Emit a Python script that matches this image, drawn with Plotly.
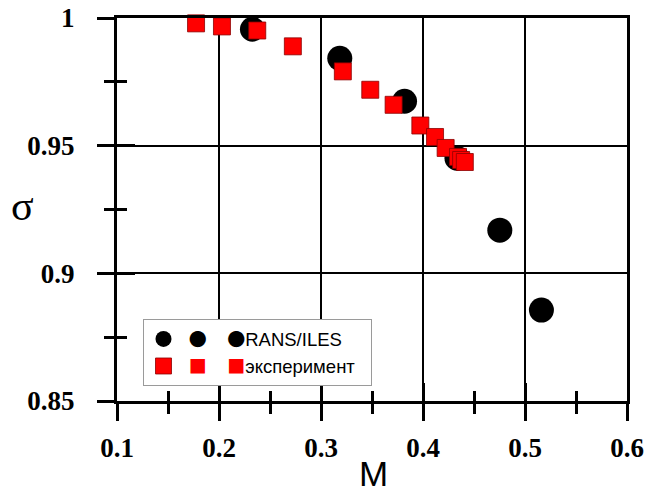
import plotly.graph_objects as go

# ---- data ----
rans_M = [0.2328, 0.3184, 0.3819, 0.4333, 0.4753, 0.5161]
rans_sigma = [0.9956, 0.9842, 0.9674, 0.9451, 0.9169, 0.8856]

exp_M = [0.1775, 0.2029, 0.2375, 0.2724, 0.3214, 0.3483, 0.3712, 0.3974,
         0.4118, 0.4222, 0.4343, 0.4374, 0.4410]
exp_sigma = [0.9979, 0.9967, 0.9951, 0.9889, 0.9791, 0.9719, 0.9660, 0.9579,
             0.9534, 0.9491, 0.9456, 0.9444, 0.9436]

x_ticks = [0.1, 0.2, 0.3, 0.4, 0.5, 0.6]
x_ticklabels = ["0.1", "0.2", "0.3", "0.4", "0.5", "0.6"]
x_minor = [0.15, 0.25, 0.35, 0.45, 0.55]
y_ticks = [0.85, 0.9, 0.95, 1.0]
y_ticklabels = ["0.85", "0.9", "0.95", "1"]
y_minor = [0.875, 0.925, 0.975]

name_rans = "RANS/ILES"
name_exp = "эксперимент"

NB = "\u00a0"
glyph = "<span style='font-family:Noto Sans CJK JP;font-size:18px;color:{c}'>{g}</span>"
leg_rans = NB + glyph.format(c="black", g="\u25cf") + NB * 4 + glyph.format(c="black", g="\u25cf") + name_rans + NB * 2
leg_exp = NB + glyph.format(c="red", g="\u25a0") + NB * 4 + glyph.format(c="red", g="\u25a0") + name_exp + NB * 2

fig = go.Figure()
fig.add_trace(go.Scatter(
    x=rans_M, y=rans_sigma, mode="markers", name=leg_rans,
    marker=dict(symbol="circle", size=25, color="black", line=dict(width=0)),
    cliponaxis=False,
))
fig.add_trace(go.Scatter(
    x=exp_M, y=exp_sigma, mode="markers", name=leg_exp,
    marker=dict(symbol="square", size=17, color="#ff0000",
                line=dict(width=0.8, color="#8b0000")),
    cliponaxis=False,
))
# empty trace to register the overlay axes (inside ticks)
fig.add_trace(go.Scatter(x=[], y=[], xaxis="x2", yaxis="y2", showlegend=False,
                         hoverinfo="skip"))

TICKFAM = "Liberation Serif, Times New Roman, Liberation Sans, Arial, sans-serif"
tickfont = dict(family=TICKFAM, size=27, color="black", weight="bold")
xr = [0.1, 0.6]
yr = [0.85, 1.0]

common = dict(tickcolor="black", zeroline=False, automargin=False)

fig.update_layout(
    width=651, height=495,
    margin=dict(l=117, r=24, t=18, b=94, autoexpand=False),
    paper_bgcolor="white", plot_bgcolor="white",
    showlegend=True,
    legend=dict(
        x=0.05, y=0.213, xanchor="left", yanchor="top",
        bgcolor="white", bordercolor="#9a9a9a", borderwidth=1,
        font=dict(family="Liberation Sans", size=18.5, color="black"),
        tracegroupgap=0, itemsizing="trace",
    ),
    xaxis=dict(
        range=xr, tickmode="array", tickvals=x_ticks, ticktext=x_ticklabels,
        ticks="outside", ticklen=17, tickwidth=3,
        showline=True, linewidth=3, linecolor="black", mirror=True,
        showgrid=True, gridcolor="black", gridwidth=2,
        tickfont=tickfont, ticklabelstandoff=4,
        minor=dict(tickvals=x_minor, ticks="outside",
                   ticklen=10, tickwidth=3, tickcolor="black", showgrid=False),
        **common,
    ),
    yaxis=dict(
        range=yr, tickmode="array", tickvals=y_ticks, ticktext=y_ticklabels,
        ticks="outside", ticklen=17, tickwidth=3,
        showline=True, linewidth=3, linecolor="black", mirror=True,
        showgrid=True, gridcolor="black", gridwidth=2,
        tickfont=tickfont, ticklabelstandoff=17,
        minor=dict(tickvals=y_minor, ticks="outside",
                   ticklen=10, tickwidth=3, tickcolor="black", showgrid=False),
        **common,
    ),
    xaxis2=dict(
        range=xr, overlaying="x", anchor="y2", side="bottom",
        tickmode="array", tickvals=x_ticks, ticks="inside", ticklen=18,
        tickwidth=3, showticklabels=False,
        showgrid=False, showline=False,
        minor=dict(tickvals=x_minor, ticks="inside",
                   ticklen=10, tickwidth=3, tickcolor="black", showgrid=False),
        **common,
    ),
    yaxis2=dict(
        range=yr, overlaying="y", anchor="x2", side="left",
        tickmode="array", tickvals=y_ticks, ticks="inside", ticklen=18,
        tickwidth=3, showticklabels=False,
        showgrid=False, showline=False,
        minor=dict(tickvals=y_minor, ticks="inside",
                   ticklen=10, tickwidth=3, tickcolor="black", showgrid=False),
        **common,
    ),
    annotations=[
        dict(text="M", xref="paper", yref="paper", x=0.5025, y=-0.189,
             xanchor="center", yanchor="middle", showarrow=False,
             font=dict(family="Liberation Sans", size=35, color="black")),
        dict(text="σ", xref="paper", yref="paper", x=-0.1847, y=0.51,
             xanchor="center", yanchor="middle", showarrow=False,
             font=dict(family="Liberation Serif, Times New Roman, DejaVu Sans", size=42, color="black")),
    ],
)

fig.write_html("out.html")
